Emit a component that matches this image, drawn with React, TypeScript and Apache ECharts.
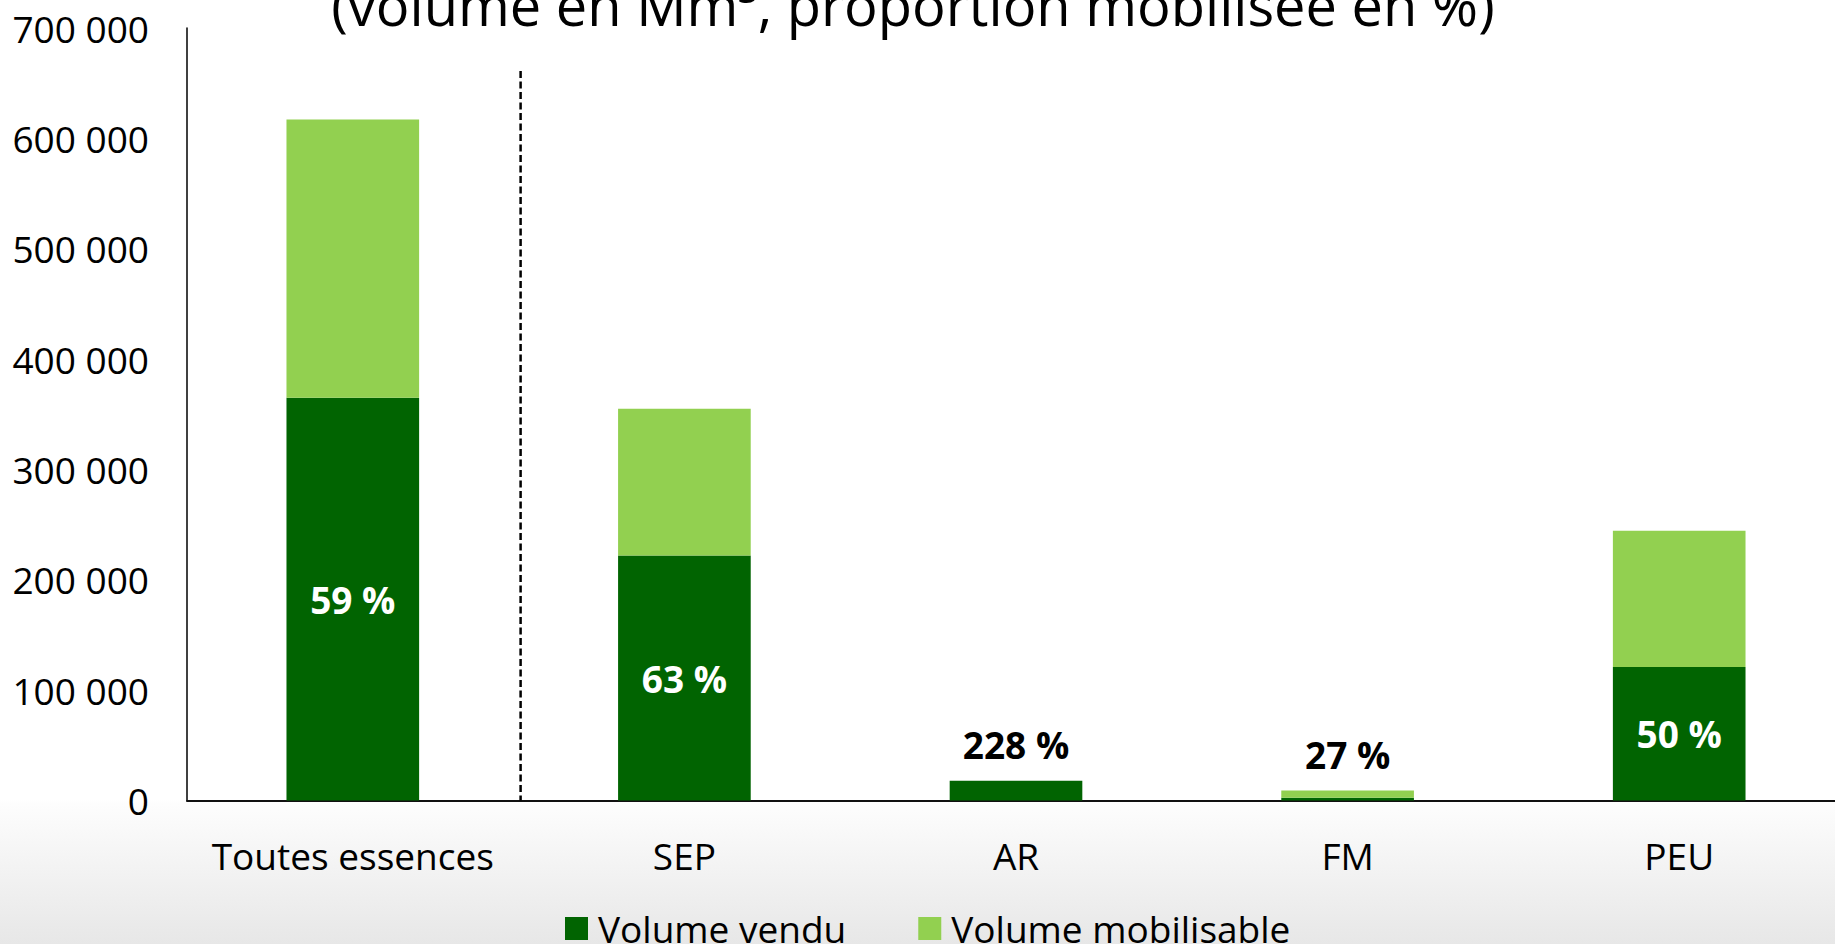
import React, { useEffect, useRef } from "react";
import * as echarts from "echarts";

const categories = ["Toutes essences", "SEP", "AR", "FM", "PEU"];
const volumeVendu = [365000, 222000, 18000, 2400, 121000];
const volumeMobilisable = [617000, 355000, 7900, 9000, 244500];
const proportions = [59, 63, 228, 27, 50];
const yTicks = [0, 100000, 200000, 300000, 400000, 500000, 600000, 700000];
const titleText = "(volume en Mm³, proportion mobilisée en %)";
const legendNames = ["Volume vendu", "Volume mobilisable"];

const DARK = "#016401";
const LIGHT = "#92D050";
const FONT = "'Open Sans', 'Noto Sans', sans-serif";

const fmt = (v: number) => String(v).replace(/\B(?=(\d{3})+(?!\d))/g, " ");

export default function App() {
  const ref = useRef<HTMLDivElement>(null);
  useEffect(() => {
    if (!ref.current) return;
    const chart = echarts.init(ref.current, null, { renderer: "svg" });
    const remainder = volumeMobilisable.map((m, i) => Math.max(0, m - volumeVendu[i]));
    const small = volumeVendu.map((v) => v < 50000);
    const option: any = {
      animation: false,
      backgroundColor: "transparent",
      textStyle: { fontFamily: FONT },
      grid: { left: 187, right: 0, top: 28, bottom: 143.5, containLabel: false },
      legend: {
        data: legendNames,
        left: 560,
        top: 905,
        itemWidth: 23,
        itemHeight: 23,
        itemGap: 72,
        icon: "rect",
        textStyle: { fontFamily: FONT, fontSize: 37, color: "#000", padding: [0, 0, 0, 5] },
      },
      xAxis: {
        type: "category",
        data: categories,
        axisLine: { show: true, lineStyle: { color: "#111", width: 2 } },
        axisTick: { show: false },
        axisLabel: { fontFamily: FONT, fontSize: 37, color: "#000", margin: 36, interval: 0 },
      },
      yAxis: {
        type: "value",
        min: yTicks[0],
        max: yTicks[yTicks.length - 1],
        interval: 100000,
        axisLine: { show: true, lineStyle: { color: "#000", width: 1.5 } },
        axisTick: { show: false },
        splitLine: { show: false },
        axisLabel: { fontFamily: FONT, fontSize: 37, color: "#000", margin: 38, formatter: (v: number) => fmt(v) },
      },
      series: [
        {
          name: legendNames[0],
          type: "bar",
          stack: "v",
          barWidth: "40%",
          itemStyle: { color: DARK },
          data: volumeVendu.map((v, i) => ({
            value: v,
            label: {
              show: !small[i],
              position: "inside",
              color: "#fff",
              fontFamily: FONT,
              fontWeight: "bold",
              fontSize: 37,
              formatter: () => proportions[i] + " %",
            },
          })),
        },
        {
          name: legendNames[1],
          type: "bar",
          stack: "v",
          barWidth: "40%",
          itemStyle: { color: LIGHT },
          data: remainder.map((v, i) => ({
            value: v,
            label: {
              show: small[i],
              position: "top",
              distance: 18,
              color: "#000",
              fontFamily: FONT,
              fontWeight: "bold",
              fontSize: 37,
              formatter: () => proportions[i] + " %",
            },
          })),
        },
      ],
    };
    chart.setOption(option);
    const x0 = chart.convertToPixel({ xAxisIndex: 0 }, 0) as number;
    const x1 = chart.convertToPixel({ xAxisIndex: 0 }, 1) as number;
    const sepX = (x0 + x1) / 2 + 2;
    const yBottom = chart.convertToPixel({ yAxisIndex: 0 }, 0) as number;
    chart.setOption({
      graphic: [
        {
          type: "line",
          shape: { x1: sepX, y1: 71, x2: sepX, y2: yBottom },
          style: { stroke: "#000", lineWidth: 2.5, lineDash: [7, 3.5] },
          z: 10,
        },
        {
          type: "text",
          x: 913,
          y: 4,
          style: {
            text: titleText,
            fontFamily: FONT,
            fontSize: 56,
            fill: "#000",
            textAlign: "center",
            textVerticalAlign: "middle",
          },
          z: 10,
        },
      ],
    });
    return () => chart.dispose();
  }, []);
  return (
    <div
      style={{
        position: "fixed",
        left: 0,
        top: 0,
        width: 1835,
        height: 944,
        overflow: "hidden",
        background: "linear-gradient(to bottom, #ffffff 0px, #ffffff 800px, #fdfdfd 804px, #e7e7e7 944px)",
      }}
    >
      <div ref={ref} style={{ width: 1845, height: 944 }} />
    </div>
  );
}
